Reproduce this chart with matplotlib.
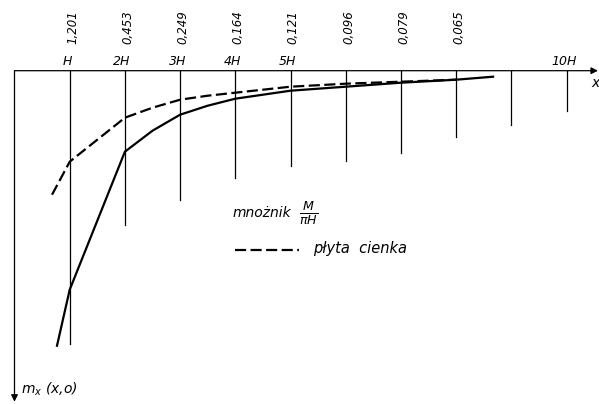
import matplotlib.pyplot as plt

# === Datos (x w jednostkach H, y = odległość pod osią) ===
pozycje_H = [1, 2, 3, 4, 5, 6, 7, 8, 9, 10]
dlugosc_linii = [273, 154, 129, 107, 95, 90, 82, 66, 54, 40]
etykiety_H = ["H", "2H", "3H", "4H", "5H", "", "", "", "", "10H"]
mnozniki = ["1,201", "0,453", "0,249", "0,164", "0,121", "0,096", "0,079", "0,065"]

# krzywa ciągła
x_ciagla = [0.77, 1.0, 2.0, 2.5, 3.0, 3.5, 4.0, 5.0, 6.0, 7.0, 8.0, 8.67]
y_ciagla = [275, 219, 81, 60, 44, 35, 28, 20, 16, 12, 9, 6]

# krzywa przerywana - płyta cienka
x_przer = [0.68, 1.0, 2.0, 2.5, 3.0, 3.5, 4.0, 5.0, 6.0, 7.0, 8.0]
y_przer = [124, 91, 47, 37, 29, 25, 22, 16, 13, 11, 9]

# === Skala rysunku ===
ORIGIN_PX = 14.5
H_PX = 55.2
AXIS_Y = 70.7
W, HGT = 599, 404

fig = plt.figure(figsize=(W / 100, HGT / 100), dpi=100)
ax = fig.add_axes([0, 0, 1, 1])
ax.set_xlim(-ORIGIN_PX / H_PX, (W - ORIGIN_PX) / H_PX)
ax.set_ylim(HGT - AXIS_Y, -AXIS_Y)
ax.axis("off")

font = dict(family=["Liberation Sans Narrow", "DejaVu Sans"], style="italic", color="black")

# osie
ax.annotate("", xy=(10.57, 0), xytext=(0, 0), annotation_clip=False,
            arrowprops=dict(arrowstyle="-|>", color="black", lw=0.9, mutation_scale=10,
                            shrinkA=0, shrinkB=0))
ax.annotate("", xy=(0, 331), xytext=(0, 0), annotation_clip=False,
            arrowprops=dict(arrowstyle="-|>", color="black", lw=0.9, mutation_scale=10,
                            shrinkA=0, shrinkB=0))
ax.text(10.52, 12, "x", fontsize=10, ha="center", va="center", **font)
ax.text(0.12, 319, "$m_x$ (x,o)", fontsize=10, ha="left", va="center", **font)

# linie pionowe i etykiety
for xh, L, lab in zip(pozycje_H, dlugosc_linii, etykiety_H):
    ax.plot([xh, xh], [0, L], color="black", lw=0.9)
    if lab:
        ax.text(xh - 0.05, -3, lab, fontsize=9, ha="center", va="bottom", **font)

for xh, m in zip(pozycje_H, mnozniki):
    ax.text(xh + 0.05, -44, m, fontsize=8.5, rotation=90, ha="center", va="center", **font)

# krzywe
ax.plot(x_ciagla, y_ciagla, color="black", lw=1.6)
ax.plot(x_przer, y_przer, color="black", lw=1.6, dashes=(5, 2))

# opis
ax.text(3.95, 142, "mnożnik", fontsize=10, ha="left", va="center", **font)
ax.text(5.15, 142, r"$\frac{M}{\pi H}$", fontsize=13, ha="left", va="center", color="black")
ax.plot([4.0, 5.15], [179, 179], color="black", lw=1.6, dashes=(5, 2))
ax.text(5.4, 178, "płyta  cienka", fontsize=10.5, ha="left", va="center", **font)

fig.savefig("out.png", dpi=100)
